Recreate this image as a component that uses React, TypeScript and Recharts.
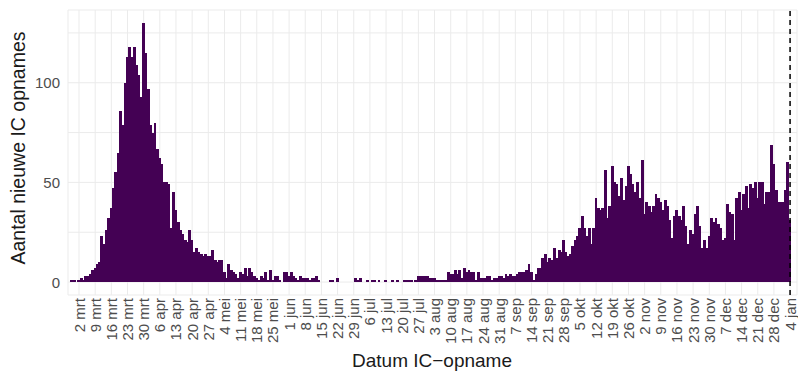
import { Bar, BarChart, CartesianGrid, ReferenceLine, XAxis, YAxis } from "recharts";

// daily new ICU admissions, from 27 feb up to 4 jan
const feb = [0, 1, 1];
const mrt = [0, 1, 2, 1, 3, 3, 4, 6, 7, 9, 10, 23, 19, 26, 32, 37, 47, 55, 65, 86, 79, 100, 113, 118, 113, 118, 109, 104, 93, 130, 115];
const apr = [97, 79, 75, 80, 67, 62, 59, 50, 50, 49, 27, 45, 36, 30, 26, 24, 21, 20, 26, 21, 15, 17, 15, 14, 13, 14, 13, 13, 16, 11];
const mei = [10, 11, 11, 5, 2, 9, 6, 5, 4, 2, 5, 4, 7, 3, 7, 5, 3, 2, 1, 3, 2, 5, 1, 6, 1, 3, 3, 1, 0, 5, 5];
const jun = [3, 5, 3, 2, 1, 3, 2, 2, 2, 1, 2, 2, 3, 1, 0, 0, 0, 0, 1, 1, 0, 2, 0, 0, 0, 0, 0, 0, 0, 2];
const jul = [1, 2, 0, 0, 1, 0, 1, 1, 0, 1, 0, 0, 1, 0, 0, 1, 0, 1, 0, 0, 1, 1, 1, 1, 0, 1, 3, 3, 3, 3, 3];
const aug = [2, 2, 2, 1, 1, 1, 1, 1, 5, 4, 4, 6, 4, 6, 2, 7, 5, 6, 5, 5, 1, 5, 2, 2, 2, 3, 3, 1, 2, 2, 3];
const sep = [3, 2, 4, 3, 4, 3, 3, 4, 5, 5, 5, 6, 9, 5, 1, 4, 7, 7, 12, 14, 10, 12, 11, 17, 12, 16, 15, 21, 15, 13];
const okt = [14, 18, 21, 23, 27, 33, 27, 23, 27, 19, 27, 42, 37, 36, 37, 56, 32, 38, 58, 50, 49, 43, 52, 41, 48, 58, 54, 49, 45, 50, 42];
const nov = [61, 34, 40, 38, 35, 38, 44, 42, 40, 36, 41, 38, 31, 22, 33, 36, 33, 31, 38, 28, 19, 26, 24, 34, 38, 28, 17, 21, 17, 23];
const dec = [32, 30, 32, 29, 27, 21, 22, 39, 35, 34, 21, 42, 45, 36, 44, 48, 37, 49, 47, 50, 42, 50, 50, 39, 45, 45, 69, 59, 46, 40, 40];
const jan = [40, 46, 60, 31];

const tickLabels = [
  "2 mrt", "9 mrt", "16 mrt", "23 mrt", "30 mrt", "6 apr", "13 apr", "20 apr", "27 apr",
  "4 mei", "11 mei", "18 mei", "25 mei", "1 jun", "8 jun", "15 jun", "22 jun", "29 jun",
  "6 jul", "13 jul", "20 jul", "27 jul", "3 aug", "10 aug", "17 aug", "24 aug", "31 aug",
  "7 sep", "14 sep", "21 sep", "28 sep", "5 okt", "12 okt", "19 okt", "26 okt",
  "2 nov", "9 nov", "16 nov", "23 nov", "30 nov", "7 dec", "14 dec", "21 dec", "28 dec", "4 jan",
];
const yTicks = [0, 25, 50, 75, 100, 125];

const firstTickDay = 4; // 2 mrt, counting from 27 feb
const todayDay = 312; // 4 jan, dashed line

const values = [feb, mrt, apr, mei, jun, jul, aug, sep, okt, nov, dec, jan].flat();
const data = values.map((v, i) => ({ day: i, opnames: v }));
const xTicks = tickLabels.map((_, i) => firstTickDay + 7 * i);

const xDomain: [number, number] = [-0.77, 315];
const plotWidth = 798 - 68 - 1;
const dayWidth = plotWidth / (xDomain[1] - xDomain[0]);

const font = "'Liberation Sans', Arial, Helvetica, sans-serif";
const purple = "#440154";

function XTick({ x, y, payload }: any) {
  const idx = xTicks.indexOf(payload.value);
  return (
    <text
      transform={`translate(${x},${y}) rotate(-90)`}
      textAnchor="end"
      dominantBaseline="central"
      fontSize={15}
      fontFamily={font}
      fill="#4D4D4D"
    >
      {tickLabels[idx]}
    </text>
  );
}

function YTick({ x, y, payload }: any) {
  if (payload.value % 50 !== 0) return <g />;
  return (
    <text x={x} y={y} textAnchor="end" dominantBaseline="central" fontSize={15} fontFamily={font} fill="#4D4D4D">
      {payload.value}
    </text>
  );
}

// full-width day column, centred on the slot recharts computed
function DayBar(props: any) {
  const { x, y, width, height } = props;
  if (!height || height <= 0) return <g />;
  const cx = x + width / 2;
  const w = dayWidth + 0.6;
  return <rect x={cx - w / 2} y={y} width={w} height={height} fill={purple} shapeRendering="crispEdges" />;
}

export default function App() {
  return (
    <div style={{ position: "absolute", left: 0, top: 0, width: 798, height: 374, background: "#fff" }}>
      <BarChart width={798} height={374} data={data} margin={{ top: 10, right: 1, left: 0, bottom: 0 }} barCategoryGap={0} barGap={0}>
        <CartesianGrid stroke="#EBEBEB" strokeWidth={1} />
        <XAxis
          type="number"
          dataKey="day"
          domain={xDomain}
          ticks={xTicks}
          interval={0}
          tick={<XTick />}
          tickSize={0}
          tickMargin={3}
          axisLine={false}
          height={79}
          allowDataOverflow
        />
        <YAxis
          type="number"
          domain={[-6.5, 136.5]}
          ticks={yTicks}
          interval={0}
          tick={<YTick />}
          tickSize={0}
          tickMargin={8}
          axisLine={false}
          width={68}
          allowDataOverflow
        />
        <Bar dataKey="opnames" fill={purple} shape={<DayBar />} isAnimationActive={false} />
        <ReferenceLine x={todayDay} stroke="#000" strokeWidth={1.5} strokeDasharray="5 4" />
      </BarChart>
      <svg width={798} height={374} style={{ position: "absolute", left: 0, top: 0, pointerEvents: "none" }}>
        <text
          transform="translate(18,148) rotate(-90)"
          textAnchor="middle"
          dominantBaseline="central"
          fontSize={19.5}
          fontFamily={font}
          fill="#1A1A1A"
        >
          Aantal nieuwe IC opnames
        </text>
        <text x={432} y={367} textAnchor="middle" fontSize={19} fontFamily={font} fill="#1A1A1A">
          Datum IC−opname
        </text>
      </svg>
    </div>
  );
}
